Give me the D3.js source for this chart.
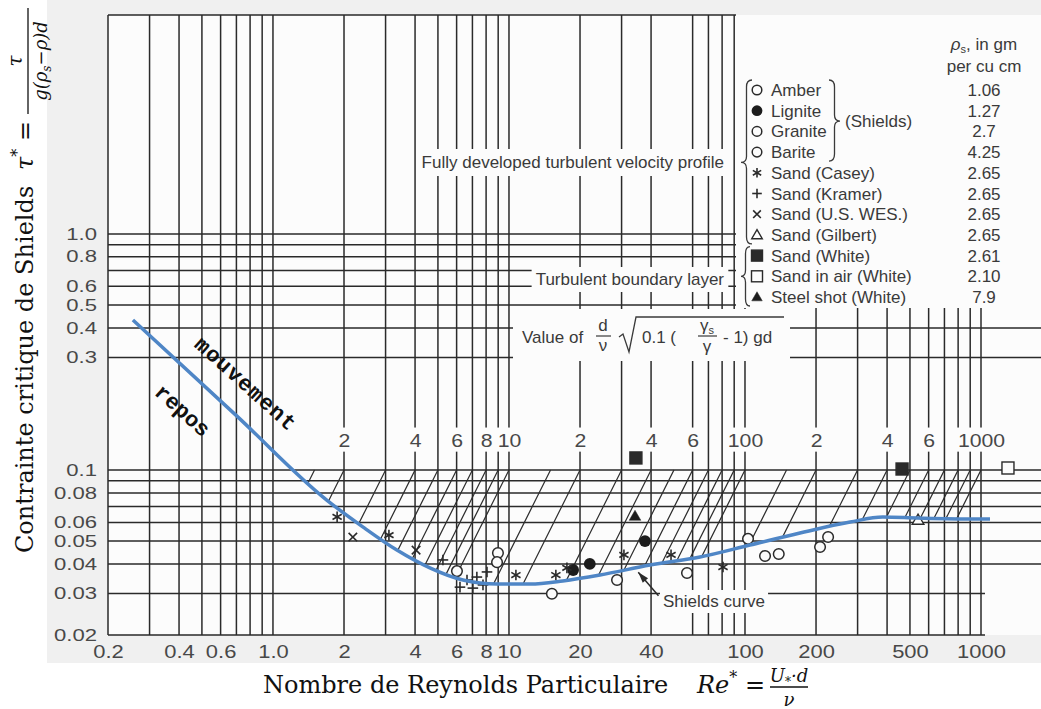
<!DOCTYPE html>
<html>
<head>
<meta charset="utf-8">
<title>Shields diagram</title>
<script src="https://cdn.jsdelivr.net/npm/d3@7"></script>
<style>
  html, body { margin: 0; padding: 0; background: #fff; }
  svg { display: block; }
  .note { font-family: "Liberation Sans", Arial, sans-serif; font-size: 17px; fill: #3a3a3a; }
  .title { font-family: "DejaVu Serif", serif; font-size: 24px; fill: #111; }
  .math { font-family: "DejaVu Serif", serif; font-style: italic; fill: #111; }
  .zone { font-family: "Liberation Mono", monospace; font-weight: bold; font-size: 22px; fill: #111; }
</style>
</head>
<body>
<svg id="chart" width="1041" height="709"></svg>
<script>
// ---- values ----
// blue Shields curve
const curveRe  = [0.255, 0.7, 1.69, 2.41, 3.35, 4.62, 6.38, 8.9, 12.3, 16.9, 24.3, 39.6, 64.5, 105, 171, 279, 384, 536, 925, 1092];
const curveTau = [0.432, 0.17, 0.0746, 0.0573, 0.0458, 0.0385, 0.0342, 0.0329, 0.0329, 0.0339, 0.0359, 0.0396, 0.0428, 0.0481, 0.0541, 0.0602, 0.0632, 0.0626, 0.062, 0.062];

// experimental points
const amberRe = [6.02, 8.98, 8.9, 15.2];
const amberTau = [0.0373, 0.0445, 0.0407, 0.0299];
const ligniteRe = [18.7, 22.0, 37.7];
const ligniteTau = [0.0377, 0.040, 0.050];
const graniteRe = [28.7, 56.8, 103, 121.6];
const graniteTau = [0.0342, 0.0366, 0.0511, 0.0432];
const bariteRe = [139, 208, 225];
const bariteTau = [0.0441, 0.0472, 0.052];
const caseyRe = [1.87, 3.10, 10.7, 15.8, 17.6, 30.7, 48.6, 80.7];
const caseyTau = [0.0633, 0.053, 0.0359, 0.0359, 0.0385, 0.0437, 0.0437, 0.0388];
const kramerRe = [5.25, 6.2, 6.64, 7.03, 7.31, 7.76, 8.07];
const kramerTau = [0.0416, 0.0319, 0.0342, 0.0316, 0.0352, 0.0326, 0.037];
const wesRe = [2.18, 4.04];
const wesTau = [0.052, 0.0458];
const gilbertRe = [541];
const gilbertTau = [0.0614];
const whiteRe = [34.5, 463];
const whiteTau = [0.1125, 0.101];
const airRe = [1301];
const airTau = [0.102];
const steelRe = [34.2];
const steelTau = [0.0638];

// legend
const legendNames = ["Amber", "Lignite", "Granite", "Barite", "Sand (Casey)", "Sand (Kramer)", "Sand (U.S. WES.)",
  "Sand (Gilbert)", "Sand (White)", "Sand in air (White)", "Steel shot (White)"];
const legendDensity = ["1.06", "1.27", "2.7", "4.25", "2.65", "2.65", "2.65", "2.65", "2.61", "2.10", "7.9"];
const legendSymbols = ["circle", "dot", "circle", "circle", "asterisk", "plus", "cross", "triangle", "squareFill", "square", "triangleFill"];

// grid and ticks
const xGrid = [0.2, 0.3, 0.4, 0.5, 0.6, 0.7, 0.8, 0.9, 1, 2, 3, 4, 5, 6, 7, 8, 9, 10, 20, 30, 40, 60, 70, 80, 90,
  100, 200, 300, 400, 500, 600, 700, 800, 900, 1000];
const yGridLow = [0.02, 0.03, 0.04, 0.05, 0.06, 0.07, 0.08, 0.09, 0.1];
const yGridHigh = [0.3, 0.4, 0.5, 0.6, 0.7, 0.8, 0.9, 1];
const diagValues = [1.5, 2, 3, 4, 5, 6, 7, 8, 9, 10, 15, 20, 30, 40, 50, 60, 70, 80, 90, 100, 150, 200, 300, 400, 500,
  600, 700, 800, 900, 1000];
const xTickValues = [0.2, 0.4, 0.6, 1, 2, 4, 6, 8, 10, 20, 40, 100, 200, 500, 1000];
const xTickLabels = ["0.2", "0.4", "0.6", "1.0", "2", "4", "6", "8", "10", "20", "40", "100", "200", "500", "1000"];
const yTickValues = [0.02, 0.03, 0.04, 0.05, 0.06, 0.08, 0.1, 0.3, 0.4, 0.5, 0.6, 0.8, 1];
const yTickLabels = ["0.02", "0.03", "0.04", "0.05", "0.06", "0.08", "0.1", "0.3", "0.4", "0.5", "0.6", "0.8", "1.0"];
const topTickValues = [2, 4, 6, 8, 10, 20, 40, 60, 100, 200, 400, 600, 1000];
const topTickLabels = ["2", "4", "6", "8", "10", "2", "4", "6", "100", "2", "4", "6", "1000"];

// ---- layout ----
const W = 1041, H = 709;
const plotTop = 15, plotRight = 1041;
const ink = "#2a2a2a", paper = "#fcfcfc", blue = "#4f86c6";

const svg = d3.select("#chart");
const x = d3.scaleLog().domain([0.2, 1000]).range([108, 981]);
const y = d3.scaleLog().domain([0.02, 1]).range([635, 234]);

svg.append("rect").attr("width", W).attr("height", H).attr("fill", "#fff");
svg.append("rect").attr("x", 47).attr("y", 0).attr("width", W - 47).attr("height", 663).attr("fill", "#f0f0f0");
svg.append("rect").attr("x", x(0.2)).attr("y", plotTop)
  .attr("width", plotRight - x(0.2)).attr("height", y(0.02) - plotTop).attr("fill", paper);

// grid
const grid = svg.append("g").attr("stroke", ink).attr("stroke-width", 1.5);
grid.selectAll("line.vx").data(xGrid).join("line").attr("class", "vx")
  .attr("x1", d => x(d)).attr("x2", d => x(d)).attr("y1", plotTop).attr("y2", y(0.02));
grid.selectAll("line.hy").data(yGridLow.concat(yGridHigh)).join("line").attr("class", "hy")
  .attr("x1", x(0.2)).attr("x2", d => d < 0.035 ? x(1000) + 4 : plotRight)
  .attr("y1", d => y(d)).attr("y2", d => y(d));
grid.append("line").attr("x1", x(0.2)).attr("x2", 736).attr("y1", plotTop).attr("y2", plotTop);

// diagonal lines of d/nu*sqrt(0.1(s-1)gd): tau = 0.1 (Re/V)^2, stopped at the curve
function curveAt(re) {
  const lr = Math.log10(re);
  const lx = curveRe.map(Math.log10), ly = curveTau.map(Math.log10);
  let i = 0;
  while (i < lx.length - 2 && lr > lx[i + 1]) i++;
  const t = (lr - lx[i]) / (lx[i + 1] - lx[i]);
  return Math.pow(10, ly[i] + t * (ly[i + 1] - ly[i]));
}
function diagEnd(v) {
  let lo = Math.log10(v) - 1, hi = Math.log10(v);
  for (let k = 0; k < 40; k++) {
    const mid = (lo + hi) / 2, re = Math.pow(10, mid);
    if (0.1 * (re / v) ** 2 > curveAt(re)) hi = mid; else lo = mid;
  }
  return Math.pow(10, hi);
}
const diag = svg.append("g").attr("stroke", ink).attr("stroke-width", 1.2);
diagValues.forEach(v => {
  const re = diagEnd(v);
  diag.append("line").attr("x1", x(v)).attr("y1", y(0.1))
    .attr("x2", x(re)).attr("y2", y(0.1 * (re / v) ** 2));
});

// masks and texts
const masks = svg.append("g").attr("fill", paper);
const texts = svg.append("g");
function backBox(sel, px, py) {
  const b = sel.node().getBBox();
  masks.append("rect").attr("x", b.x - px).attr("y", b.y - py)
    .attr("width", b.width + 2 * px).attr("height", b.height + 2 * py);
}
masks.append("rect").attr("x", 736).attr("y", plotTop).attr("width", plotRight - 736).attr("height", 308 - plotTop);
masks.append("rect").attr("x", 513).attr("y", 309).attr("width", 277).attr("height", 52);

// scanned tick labels are wider than the font: style them and stretch around the tick
function tickStyle(g, size, k) {
  g.attr("font-size", null).attr("font-family", null);
  g.select(".domain").remove();
  g.selectAll("text").each(function () {
    const t = d3.select(this);
    const x0 = +t.attr("x") || 0;
    t.attr("font-family", "Liberation Sans, Arial, sans-serif").attr("font-size", size)
      .attr("fill", "#484848").attr("x", x0 / k).attr("transform", `scale(${k},1)`);
  });
}

// axes
const xAxis = d3.axisBottom(x).tickValues(xTickValues).tickFormat((d, i) => xTickLabels[i]).tickSize(0).tickPadding(10);
const gx = svg.append("g").attr("transform", `translate(0,${y(0.02)})`).call(xAxis);
tickStyle(gx, 18, 1.22);

const yAxis = d3.axisLeft(y).tickValues(yTickValues).tickFormat((d, i) => yTickLabels[i]).tickSize(0).tickPadding(11);
const gy = svg.append("g").attr("transform", `translate(${x(0.2)},0)`).call(yAxis);
tickStyle(gy, 16, 1.38);

const topK = 1.18;
const tAxis = d3.axisTop(x).tickValues(topTickValues).tickFormat((d, i) => topTickLabels[i]).tickSize(0).tickPadding(5);
const gt = texts.append("g").attr("transform", `translate(0,452)`).call(tAxis);
tickStyle(gt, 18, topK);
gt.selectAll("text").each(function () {
  const b = this.getBBox();
  const m = this.parentNode.transform.baseVal.consolidate().matrix;
  masks.append("rect").attr("x", m.e + b.x * topK - 2).attr("y", 452 + b.y - 3)
    .attr("width", b.width * topK + 4).attr("height", b.height + 4);
});

// annotations in the grid
const fully = texts.append("text").attr("class", "note").attr("x", 724).attr("y", 168)
  .attr("text-anchor", "end").text("Fully developed turbulent velocity profile");
backBox(fully, 4, 4);
const tbl = texts.append("text").attr("class", "note").attr("x", 724).attr("y", 285)
  .attr("text-anchor", "end").text("Turbulent boundary layer");
backBox(tbl, 4, 3);

// Value of d/nu sqrt(0.1(gs/g - 1) gd)
texts.append("text").attr("class", "note").attr("x", 522).attr("y", 343).text("Value of");
texts.append("text").attr("class", "note").attr("x", 603).attr("y", 331).attr("text-anchor", "middle").attr("font-size", 15).text("d");
texts.append("text").attr("class", "note").attr("x", 603).attr("y", 351).attr("text-anchor", "middle").attr("font-size", 15).text("ν");
texts.append("line").attr("x1", 596).attr("x2", 611).attr("y1", 336).attr("y2", 336).attr("stroke", "#3a3a3a").attr("stroke-width", 1.2);
texts.append("path").attr("d", "M619,337 L623,334 L629,352 L636,317 L784,317")
  .attr("fill", "none").attr("stroke", "#3a3a3a").attr("stroke-width", 1.3);
texts.append("text").attr("class", "note").attr("x", 642).attr("y", 343).text("0.1 (");
const gs = texts.append("text").attr("class", "note").attr("x", 707).attr("y", 331).attr("text-anchor", "middle").attr("font-size", 15);
gs.append("tspan").text("γ");
gs.append("tspan").attr("font-size", 11).attr("dy", 3).text("s");
texts.append("text").attr("class", "note").attr("x", 707).attr("y", 352).attr("text-anchor", "middle").attr("font-size", 15).text("γ");
texts.append("line").attr("x1", 698).attr("x2", 717).attr("y1", 336).attr("y2", 336).attr("stroke", "#3a3a3a").attr("stroke-width", 1.2);
texts.append("text").attr("class", "note").attr("x", 723).attr("y", 343).text("- 1) gd");

// Shields curve pointer
const shl = texts.append("text").attr("class", "note").attr("x", 663).attr("y", 607).text("Shields curve");
backBox(shl, 3, 2);
const tip = [x(35.3), y(0.0369)], tail = [x(43), y(0.0293)];
texts.append("line").attr("x1", tail[0]).attr("y1", tail[1]).attr("x2", tip[0]).attr("y2", tip[1])
  .attr("stroke", ink).attr("stroke-width", 1.5);
const ang = Math.atan2(tip[1] - tail[1], tip[0] - tail[0]);
const ah = [[0, 0], [-11, -3.5], [-11, 3.5]].map(([u, v]) =>
  [tip[0] + u * Math.cos(ang) - v * Math.sin(ang), tip[1] + u * Math.sin(ang) + v * Math.cos(ang)]);
texts.append("path").attr("d", "M" + ah.join("L") + "Z").attr("fill", ink);

// symbols
function drawSymbol(g, type, cx, cy, s) {
  const line = (a, b, c, d) => g.append("line").attr("x1", cx + a).attr("y1", cy + b).attr("x2", cx + c).attr("y2", cy + d)
    .attr("stroke", ink).attr("stroke-width", 1.6);
  if (type === "circle") {
    g.append("circle").attr("cx", cx).attr("cy", cy).attr("r", s).attr("fill", paper).attr("stroke", ink).attr("stroke-width", 1.5);
  } else if (type === "dot") {
    g.append("circle").attr("cx", cx).attr("cy", cy).attr("r", s + 0.6).attr("fill", "#1c1c1c");
  } else if (type === "asterisk") {
    line(0, -s, 0, s);
    line(-s * 0.87, -s * 0.5, s * 0.87, s * 0.5);
    line(-s * 0.87, s * 0.5, s * 0.87, -s * 0.5);
  } else if (type === "plus") {
    line(-s, 0, s, 0); line(0, -s, 0, s);
  } else if (type === "cross") {
    line(-s * 0.8, -s * 0.8, s * 0.8, s * 0.8); line(-s * 0.8, s * 0.8, s * 0.8, -s * 0.8);
  } else if (type === "triangle" || type === "triangleFill") {
    g.append("path").attr("d", `M${cx},${cy - s * 1.1} L${cx + s * 1.1},${cy + s * 0.8} L${cx - s * 1.1},${cy + s * 0.8} Z`)
      .attr("fill", type === "triangle" ? paper : "#1c1c1c").attr("stroke", ink).attr("stroke-width", type === "triangle" ? 1.4 : 0.5);
  } else if (type === "square" || type === "squareFill") {
    g.append("rect").attr("x", cx - s).attr("y", cy - s).attr("width", 2 * s).attr("height", 2 * s)
      .attr("fill", type === "square" ? paper : "#2a2a2a").attr("stroke", ink).attr("stroke-width", 1.4);
  }
}

// legend
const leg = svg.append("g");
const rowY = i => 90 + i * 20.7;
const header = leg.append("text").attr("class", "note").attr("x", 984).attr("y", 50).attr("text-anchor", "middle");
header.append("tspan").attr("font-style", "italic").text("ρ");
header.append("tspan").attr("font-size", 11).attr("dy", 3).text("s");
header.append("tspan").attr("dy", -3).text(", in gm");
leg.append("text").attr("class", "note").attr("x", 984).attr("y", 72).attr("text-anchor", "middle").text("per cu cm");
legendNames.forEach((name, i) => {
  drawSymbol(leg, legendSymbols[i], 757, rowY(i), legendSymbols[i].startsWith("square") ? 5.5 : 4.8);
  leg.append("text").attr("class", "note").attr("x", 771).attr("y", rowY(i) + 6).text(name);
  leg.append("text").attr("class", "note").attr("x", 984).attr("y", rowY(i) + 6).attr("text-anchor", "middle").text(legendDensity[i]);
});
function bracePath(xArm, y1, y2, tipX, tipY) {
  const mx = (xArm + tipX) / 2;
  return `M${xArm},${y1} Q${mx},${y1} ${mx},${y1 + 7} L${mx},${tipY - 6} Q${mx},${tipY} ${tipX},${tipY} ` +
    `Q${mx},${tipY} ${mx},${tipY + 6} L${mx},${y2 - 7} Q${mx},${y2} ${xArm},${y2}`;
}
const braces = leg.append("g").attr("fill", "none").attr("stroke", "#3a3a3a").attr("stroke-width", 1.3);
braces.append("path").attr("d", bracePath(752, rowY(0) - 10, rowY(7) + 9, 741, (rowY(3) + rowY(4)) / 2));
braces.append("path").attr("d", bracePath(829, rowY(0) - 10, rowY(3) + 9, 840, (rowY(1) + rowY(2)) / 2));
braces.append("path").attr("d", bracePath(750, rowY(8) - 9, rowY(10) + 9, 741, rowY(9)));
leg.append("text").attr("class", "note").attr("x", 845).attr("y", (rowY(1) + rowY(2)) / 2 + 6).text("(Shields)");

// data points
const marks = svg.append("g");
const series = [
  ["circle", amberRe, amberTau], ["dot", ligniteRe, ligniteTau], ["circle", graniteRe, graniteTau],
  ["circle", bariteRe, bariteTau], ["asterisk", caseyRe, caseyTau], ["plus", kramerRe, kramerTau],
  ["cross", wesRe, wesTau], ["triangle", gilbertRe, gilbertTau], ["squareFill", whiteRe, whiteTau],
  ["square", airRe, airTau], ["triangleFill", steelRe, steelTau]
];
series.forEach(([sym, res, taus]) => {
  res.forEach((re, i) => drawSymbol(marks, sym, x(re), y(taus[i]), sym.startsWith("square") ? 6 : 5.3));
});

// blue Shields curve
const line = d3.line().x(d => x(d[0])).y(d => y(d[1])).curve(d3.curveMonotoneX);
svg.append("path").datum(d3.zip(curveRe, curveTau)).attr("d", line)
  .attr("fill", "none").attr("stroke", blue).attr("stroke-width", 3.5).attr("stroke-linecap", "butt");

// zone labels
svg.append("text").attr("class", "zone").attr("text-anchor", "middle").attr("dy", "0.35em")
  .attr("textLength", 128).attr("lengthAdjust", "spacing")
  .attr("transform", "translate(246,383) rotate(42)").text("mouvement");
svg.append("text").attr("class", "zone").attr("text-anchor", "middle").attr("dy", "0.35em")
  .attr("transform", "translate(183,410) rotate(42)").text("repos");

// axis titles
svg.append("text").attr("class", "title").attr("x", 263).attr("y", 693).text("Nombre de Reynolds Particulaire");
const re = svg.append("text").attr("class", "math").attr("x", 697).attr("y", 693).attr("font-size", 24);
re.append("tspan").text("Re");
re.append("tspan").attr("font-size", 16).attr("dy", -10).text("*");
re.append("tspan").attr("font-style", "normal").attr("dy", 10).text(" =");
const num = svg.append("text").attr("class", "math").attr("x", 789).attr("y", 682).attr("text-anchor", "middle").attr("font-size", 18);
num.append("tspan").text("U");
num.append("tspan").attr("font-size", 12).attr("dy", 4).text("*");
num.append("tspan").attr("dy", -4).text("·d");
svg.append("line").attr("x1", 770).attr("x2", 808).attr("y1", 687).attr("y2", 687).attr("stroke", "#111").attr("stroke-width", 1.3);
svg.append("text").attr("class", "math").attr("x", 789).attr("y", 706).attr("text-anchor", "middle").attr("font-size", 18).text("ν");

const yt = svg.append("g").attr("transform", "rotate(-90)");
yt.append("text").attr("class", "title").attr("x", -553).attr("y", 33).text("Contrainte critique de Shields");
const ts = yt.append("text").attr("class", "math").attr("x", -170).attr("y", 33).attr("font-size", 24);
ts.append("tspan").text("τ");
ts.append("tspan").attr("font-size", 16).attr("dy", -10).text("*");
ts.append("tspan").attr("font-style", "normal").attr("dy", 10).text(" =");
yt.append("text").attr("class", "math").attr("x", -61).attr("y", 22).attr("text-anchor", "middle").attr("font-size", 20).text("τ");
yt.append("line").attr("x1", -114).attr("x2", -8).attr("y1", 28).attr("y2", 28).attr("stroke", "#111").attr("stroke-width", 1.3);
const den = yt.append("text").attr("class", "math").attr("x", -61).attr("y", 47).attr("text-anchor", "middle").attr("font-size", 18);
den.append("tspan").text("g(ρ");
den.append("tspan").attr("font-size", 12).attr("dy", 4).text("s");
den.append("tspan").attr("dy", -4).text("−ρ)d");
</script>
</body>
</html>
